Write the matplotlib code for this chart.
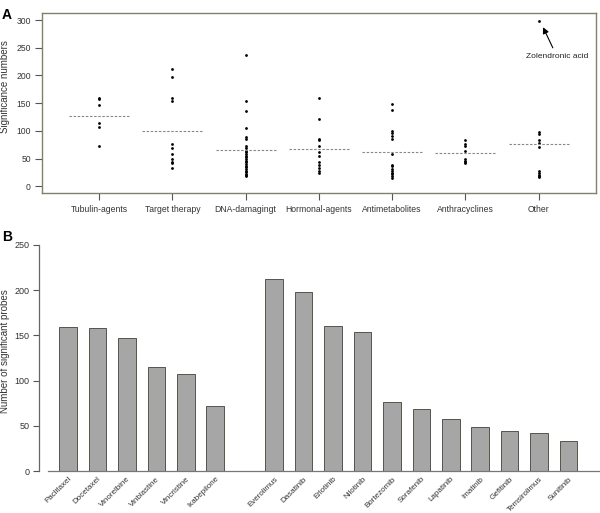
import numpy as np
import matplotlib
matplotlib.use("Agg")
import matplotlib.pyplot as plt

plt.rcParams['font.family'] = ['Liberation Sans', 'DejaVu Sans']

# Panel A: significance numbers per drug class
classes = ['Tubulin-agents', 'Target therapy', 'DNA-damagingt', 'Hormonal-agents',
           'Antimetabolites', 'Anthracyclines', 'Other']
tubulin = [159, 158, 147, 115, 107, 72]
target = [212, 198, 160, 154, 76, 69, 58, 49, 44, 42, 33]
dna = [237, 153, 136, 106, 88, 85, 72, 69, 64, 61, 58, 55, 52, 49, 46, 43, 40,
       37, 34, 31, 28, 25, 22, 20, 19]
hormonal = [159, 121, 86, 84, 73, 62, 54, 43, 39, 33, 28, 24]
antimetab = [149, 137, 100, 96, 91, 85, 58, 39, 36, 31, 27, 24, 22, 19, 15]
anthra = [84, 76, 72, 63, 49, 45, 44, 42]
other = [298, 98, 95, 84, 78, 71, 28, 24, 20, 19, 16]
groups = [tubulin, target, dna, hormonal, antimetab, anthra, other]

# Panel B: number of significant probes per drug
tub_drugs = ['Paclitaxel', 'Docetaxel', 'Vinorelbine', 'Vinblastine', 'Vincristine', 'Ixabepilone']
tgt_drugs = ['Everolimus', 'Dasatinib', 'Erlotinib', 'Nilotinib', 'Bortezomib', 'Sorafenib',
             'Lapatinib', 'Imatinib', 'Gefitinib', 'Temsirolimus', 'Sunitinib']
b_vals = [159, 158, 147, 115, 107, 72,
          212, 198, 160, 154, 76, 69, 58, 49, 44, 42, 33]

fig = plt.figure(figsize=(6.0, 5.13), dpi=100)

# ---------- Panel A ----------
ax1 = fig.add_axes([0.07, 0.624, 0.923, 0.351])
frame = '#80806c'
for i, vals in enumerate(groups):
    ax1.plot(np.full(len(vals), i), vals, 'o', color='black', ms=2.0, mec='none')
    m = np.mean(vals)
    ax1.plot([i - 0.41, i + 0.41], [m, m], color='#888888', lw=0.8,
             linestyle=(0, (2.2, 1.5)))
ax1.annotate('Zolendronic acid', xy=(6.06, 287), xytext=(6.25, 234),
             ha='center', va='center', fontsize=6, color='#222222',
             arrowprops=dict(arrowstyle='-|>', color='black', lw=0.8,
                             mutation_scale=9, shrinkA=2, shrinkB=0))
ax1.set_xlim(-0.78, 6.78)
ax1.set_ylim(-12, 313)
ax1.set_yticks(range(0, 301, 50))
ax1.set_xticks(range(len(classes)))
ax1.set_xticklabels(classes)
ax1.tick_params(axis='both', labelsize=6.2, colors='#555555', labelcolor='#333333',
                length=5, width=0.8, pad=3)
ax1.tick_params(axis='x', pad=4)
for s in ax1.spines.values():
    s.set_color(frame)
    s.set_linewidth(1.0)
ax1.set_ylabel('Significance numbers', fontsize=7, color='#333333')
ax1.yaxis.set_label_coords(-0.057, 0.59)
fig.text(0.003, 0.985, 'A', fontsize=10, fontweight='bold', va='top')

# ---------- Panel B ----------
ax2 = fig.add_axes([0.0655, 0.0813, 0.9335, 0.4417])
pos = list(range(6)) + list(range(7, 18))
ax2.bar(pos, b_vals, width=0.6, color='#a6a6a6', edgecolor='#55554a', linewidth=0.7)
ax2.set_xlim(-0.98, 18.05)
ax2.set_ylim(0, 250)
ax2.set_yticks(range(0, 251, 50))
ax2.set_xticks(pos)
ax2.set_xticklabels(tub_drugs + tgt_drugs, rotation=45, ha='right',
                    rotation_mode='anchor', fontsize=5.8, color='#333333')
ax2.tick_params(axis='x', length=0, pad=3)
ax2.tick_params(axis='y', labelsize=6.5, colors='#555555', labelcolor='#333333',
                length=4, width=0.8, pad=3)
ax2.spines['top'].set_visible(False)
ax2.spines['right'].set_visible(False)
ax2.spines['left'].set_color('#666666')
ax2.spines['left'].set_linewidth(0.9)
ax2.spines['left'].set_bounds(0, 250)
ax2.spines['bottom'].set_color('#777777')
ax2.spines['bottom'].set_linewidth(0.9)
ax2.spines['bottom'].set_bounds(-0.68, 18.05)
ax2.set_ylabel('Number of significant probes', fontsize=7, color='#333333')
ax2.yaxis.set_label_coords(-0.052, 0.53)
fig.text(0.003, 0.552, 'B', fontsize=10, fontweight='bold', va='top')

fig.savefig('out.png', dpi=100)
